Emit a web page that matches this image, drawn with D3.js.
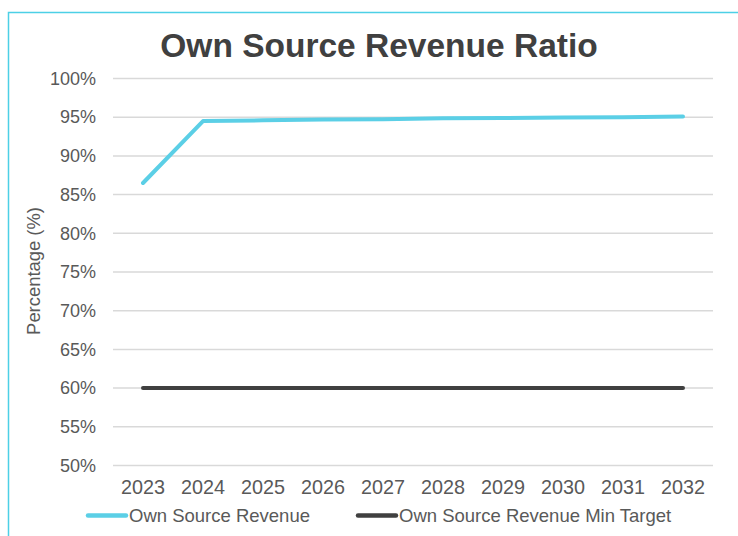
<!DOCTYPE html>
<html>
<head>
<meta charset="utf-8">
<script src="https://cdn.jsdelivr.net/npm/d3@7"></script>
<style>
  html, body { margin: 0; padding: 0; background: #fff; }
  svg { display: block; font-family: "Liberation Sans", Arial, sans-serif; }
</style>
</head>
<body>
<svg id="chart" width="738" height="536"></svg>
<script>
// Fiscal years on the category axis
const years = ["2023", "2024", "2025", "2026", "2027", "2028", "2029", "2030", "2031", "2032"];
// Own source revenue as a share of total revenue (%)
const ownSourceRevenue = [86.5, 94.5, 94.6, 94.7, 94.75, 94.85, 94.9, 94.95, 95.0, 95.1];
// Minimum target share (%)
const minTarget = [60, 60, 60, 60, 60, 60, 60, 60, 60, 60];
// Y axis ticks (%)
const yTicks = [50, 55, 60, 65, 70, 75, 80, 85, 90, 95, 100];

const svg = d3.select("#chart");
const W = 738, H = 536;
const plot = { left: 113, right: 713, top: 78.5, bottom: 465.5 };

// Outer frame
svg.append("rect")
  .attr("x", 8.5).attr("y", 12.5)
  .attr("width", W + 20).attr("height", H + 20)
  .attr("fill", "none").attr("stroke", "#4dd0e6").attr("stroke-width", 1.5);

const x = d3.scaleBand().domain(years).range([plot.left, plot.right]);
const y = d3.scaleLinear().domain([50, 100]).range([plot.bottom, plot.top]);

// Title
svg.append("text")
  .attr("x", 379).attr("y", 56.5)
  .attr("text-anchor", "middle")
  .attr("font-size", 33.5).attr("font-weight", "bold")
  .attr("fill", "#404040")
  .text("Own Source Revenue Ratio");

// Horizontal gridlines
svg.append("g")
  .selectAll("line")
  .data(yTicks)
  .join("line")
  .attr("x1", plot.left).attr("x2", plot.right)
  .attr("y1", d => y(d)).attr("y2", d => y(d))
  .attr("stroke", "#d9d9d9").attr("stroke-width", 1.5);

// Y axis labels
const yAxis = d3.axisLeft(y).tickValues(yTicks).tickSize(0).tickPadding(0)
  .tickFormat(d => d + "%");
svg.append("g")
  .attr("transform", `translate(${plot.left - 17},0)`)
  .call(yAxis)
  .call(g => g.select(".domain").remove())
  .call(g => g.selectAll("text")
    .attr("font-size", 18).attr("fill", "#595959")
    .attr("font-family", "Liberation Sans, Arial, sans-serif"));

// X axis labels
const xAxis = d3.axisBottom(x).tickSize(0).tickPadding(0);
svg.append("g")
  .attr("transform", `translate(0,${plot.bottom + 14})`)
  .call(xAxis)
  .call(g => g.select(".domain").remove())
  .call(g => g.selectAll("text")
    .attr("font-size", 19.8).attr("fill", "#595959")
    .attr("font-family", "Liberation Sans, Arial, sans-serif"));

// Y axis title
svg.append("text")
  .attr("transform", "translate(40,271) rotate(-90)")
  .attr("text-anchor", "middle")
  .attr("font-size", 18.4).attr("fill", "#595959")
  .text("Percentage (%)");

const cx = d => x(d) + x.bandwidth() / 2;
const line = d3.line().x(d => cx(d.year)).y(d => y(d.value));

const series = [
  { name: "Own Source Revenue", values: ownSourceRevenue, color: "#5bcfe6" },
  { name: "Own Source Revenue Min Target", values: minTarget, color: "#404040" }
];

series.forEach(s => {
  svg.append("path")
    .datum(years.map((yr, i) => ({ year: yr, value: s.values[i] })))
    .attr("d", line)
    .attr("fill", "none")
    .attr("stroke", s.color)
    .attr("stroke-width", 4)
    .attr("stroke-linecap", "round")
    .attr("stroke-linejoin", "round");
});

// Legend
const legendPos = [88, 358];
series.forEach((s, i) => {
  const g = svg.append("g").attr("transform", `translate(${legendPos[i]},515.5)`);
  g.append("line")
    .attr("x1", 0).attr("x2", 38).attr("y1", 0).attr("y2", 0)
    .attr("stroke", s.color).attr("stroke-width", 4.5).attr("stroke-linecap", "round");
  g.append("text")
    .attr("x", 41).attr("y", 6.5)
    .attr("font-size", 18.5).attr("fill", "#595959")
    .text(s.name);
});
</script>
</body>
</html>
